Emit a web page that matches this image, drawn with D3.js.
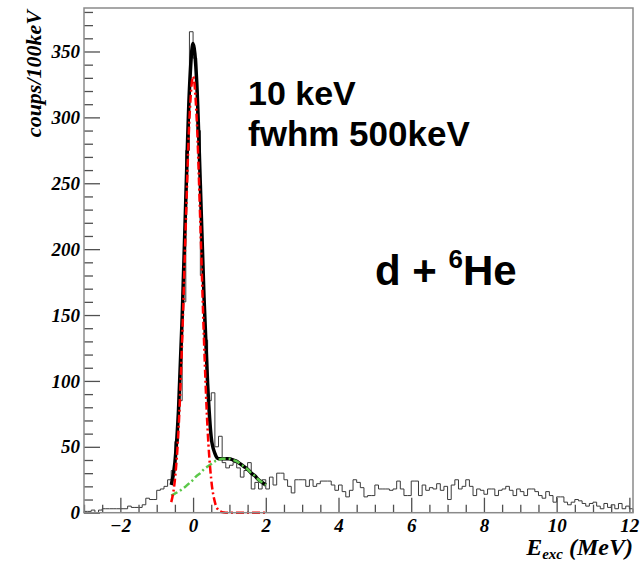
<!DOCTYPE html>
<html>
<head>
<meta charset="utf-8">
<script src="https://cdn.jsdelivr.net/npm/d3@7/dist/d3.min.js"></script>
<style>
  html, body { margin: 0; padding: 0; background: #fff; }
  svg { display: block; }
</style>
</head>
<body>
<svg id="chart" width="644" height="565"></svg>
<script>
// Excitation-energy spectrum, 100 keV bins starting at -3 MeV
const binStart = -3.0;
const binWidth = 0.1;
const counts = [
  1, 1, 2, 0, 2, 3, 3, 3, 3, 3,
  3, 3, 5, 4, 4, 4, 6, 11, 10, 10,
  17, 18, 20, 25, 32, 54, 85, 160, 275, 365,
  345, 290, 180, 131, 85, 91, 50, 58, 38, 34,
  36, 38, 34, 27, 32, 38, 18, 23, 18, 25,
  18, 27, 21, 30, 30, 25, 20, 15, 25, 25,
  25, 20, 25, 20, 22, 24, 24, 24, 21, 17,
  21, 16, 12, 17, 25, 23, 19, 12, 13, 13,
  21, 18, 18, 18, 17, 18, 24, 18, 13, 13,
  24, 24, 13, 21, 17, 19, 18, 22, 17, 20,
  10, 21, 25, 18, 20, 25, 20, 13, 18, 17,
  14, 18, 18, 13, 17, 18, 20, 17, 13, 18,
  16, 13, 18, 18, 16, 13, 11, 16, 13, 8,
  12, 12, 8, 6, 8, 10, 9, 7, 5, 7,
  8, 5, 3, 7, 4, 6, 3, 7, 3, 5, 3
];

// Fit curves sampled on the fit range (MeV)
const fitX = [-0.6, -0.5, -0.4, -0.3, -0.2, -0.1, 0.0, 0.1, 0.2, 0.3, 0.4, 0.5, 0.6,
              0.7, 0.8, 0.9, 1.0, 1.1, 1.2, 1.3, 1.4, 1.5, 1.6, 1.7, 1.8, 1.9, 2.0];
const peakFit = [8, 25, 63, 131, 219, 299, 331, 299, 219, 131, 63, 25, 8,
                 2, 0.4, 0, 0, 0, 0, 0, 0, 0, 0, 0, 0, 0, 0];
const broadFit = [13, 14.5, 16, 18, 20, 22.5, 25, 28, 30, 33, 35, 37, 39,
                  40, 41, 41, 41, 40, 39, 37, 35, 33, 30, 28, 25, 23, 21];
const totalFit = [21, 38, 78, 148, 238, 321, 356, 327, 249, 164, 98, 57, 45,
                  41, 41, 41, 41, 40, 39, 37, 35, 33, 30, 28, 25, 23, 21];

const xMajor = [-2, 0, 2, 4, 6, 8, 10, 12];
const yMajor = [0, 50, 100, 150, 200, 250, 300, 350];

const svg = d3.select("#chart");
const frameL = 84, frameR = 633, frameT = 8, frameB = 512.7;

const x = d3.scaleLinear().domain([-3, 12.1]).range([frameL, frameR]);
const y = d3.scaleLinear().domain([0, 383]).range([frameB, frameT]);

// histogram outline
const edges = counts.map((c, i) => ({ x: binStart + i * binWidth, v: c }));
edges.push({ x: binStart + counts.length * binWidth, v: counts[counts.length - 1] });
const histLine = d3.line().x(d => x(d.x)).y(d => y(d.v)).curve(d3.curveStepAfter);
const histPts = [{ x: binStart, v: 0 }].concat(edges);
svg.append("path")
  .attr("d", histLine(histPts) + `L${x(edges[edges.length - 1].x)},${y(0)}`)
  .attr("fill", "none")
  .attr("stroke", "#3a3a3a")
  .attr("stroke-width", 1);

// fit curves
const fitLine = vals => d3.line()
  .x((d, i) => x(fitX[i]))
  .y(d => y(d))
  .curve(d3.curveMonotoneX)(vals);

svg.append("path")
  .attr("d", fitLine(totalFit))
  .attr("fill", "none")
  .attr("stroke", "#000")
  .attr("stroke-width", 3.5)
  .attr("stroke-linejoin", "round");

svg.append("path")
  .attr("d", fitLine(broadFit))
  .attr("fill", "none")
  .attr("stroke", "#5cc84a")
  .attr("stroke-width", 2.5)
  .attr("stroke-dasharray", "7,3,2,3");

svg.append("path")
  .attr("d", fitLine(peakFit))
  .attr("fill", "none")
  .attr("stroke", "#ff0000")
  .attr("stroke-width", 2.5)
  .attr("stroke-dasharray", "8,3,2,3");

// axes: ticks point into the frame
const tickStyle = g => {
  g.select(".domain").remove();
  g.selectAll(".tick line").attr("stroke", "#505050").attr("stroke-width", 1.3);
  g.selectAll(".tick text")
    .attr("fill", "#000")
    .style("font-family", "'Liberation Serif', 'Times New Roman', serif")
    .style("font-weight", "bold")
    .style("font-style", "italic")
    .style("font-size", "19px");
};

const xMinor = d3.range(-3, 12.01, 0.5).filter(v => Math.abs(v % 2) > 1e-6);
svg.append("g").attr("transform", `translate(0,${frameB})`)
  .call(d3.axisBottom(x).tickValues(xMinor).tickSize(-8).tickFormat(""))
  .call(tickStyle);
svg.append("g").attr("transform", `translate(0,${frameB})`)
  .call(d3.axisBottom(x).tickValues(xMajor).tickSize(-15).tickPadding(6).tickFormat(d3.format("d")))
  .call(tickStyle);

const yMinor = d3.range(0, 381, 10).filter(v => v % 50 !== 0);
svg.append("g").attr("transform", `translate(${frameL},0)`)
  .call(d3.axisLeft(y).tickValues(yMinor).tickSize(-9).tickFormat(""))
  .call(tickStyle);
svg.append("g").attr("transform", `translate(${frameL},0)`)
  .call(d3.axisLeft(y).tickValues(yMajor).tickSize(-16).tickPadding(4).tickFormat(d3.format("d")))
  .call(tickStyle);

// frame
svg.append("rect")
  .attr("x", frameL).attr("y", frameT)
  .attr("width", frameR - frameL).attr("height", frameB - frameT)
  .attr("fill", "none")
  .attr("stroke", "#8a8a8a")
  .attr("stroke-width", 1.5);

// axis titles
const serif = "'Liberation Serif', 'Times New Roman', serif";
const xt = svg.append("text")
  .attr("x", frameR).attr("y", 555)
  .attr("text-anchor", "end")
  .style("font-family", serif).style("font-weight", "bold").style("font-style", "italic")
  .style("font-size", "24px");
xt.append("tspan").text("E");
xt.append("tspan").attr("dy", 4).style("font-size", "15px").text("exc");
xt.append("tspan").attr("dy", -4).text(" (MeV)");

svg.append("text")
  .attr("transform", "translate(41,10) rotate(-90)")
  .attr("text-anchor", "end")
  .style("font-family", serif).style("font-weight", "bold").style("font-style", "italic")
  .style("font-size", "22px")
  .text("coups/100keV");

// annotations
const sans = "'Liberation Sans', Arial, sans-serif";
svg.append("text").attr("x", 248).attr("y", 105)
  .style("font-family", sans).style("font-weight", "bold").style("font-size", "34px")
  .text("10 keV");
svg.append("text").attr("x", 248).attr("y", 146)
  .style("font-family", sans).style("font-weight", "bold").style("font-size", "35px")
  .text("fwhm 500keV");
const reac = svg.append("text").attr("x", 375).attr("y", 285)
  .style("font-family", sans).style("font-weight", "bold").style("font-size", "42px");
reac.append("tspan").text("d + ");
reac.append("tspan").attr("dy", -17).style("font-size", "26px").text("6");
reac.append("tspan").attr("dy", 17).text("He");
</script>
</body>
</html>
